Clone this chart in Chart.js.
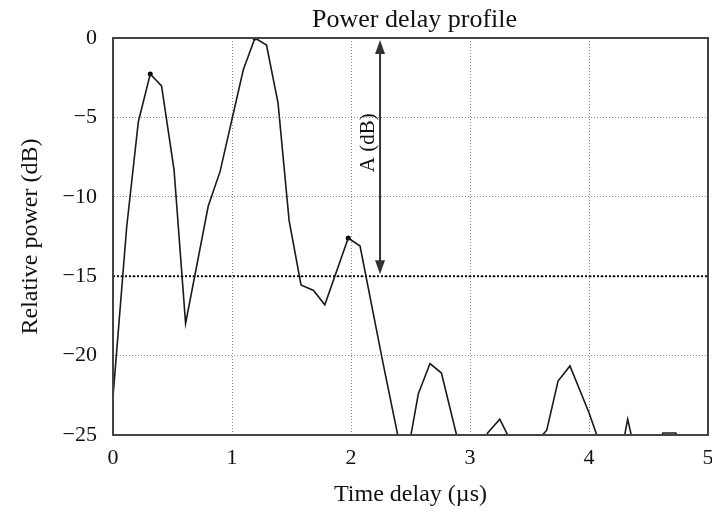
<!DOCTYPE html>
<html><head><meta charset="utf-8">
<script src="https://cdn.jsdelivr.net/npm/chart.js@4/dist/chart.umd.min.js"></script>
<style>html,body{margin:0;padding:0;background:#fff;overflow:hidden;width:712px;height:517px}canvas{display:block}</style>
</head><body>
<canvas id="c" width="730" height="517"></canvas>
<script>
// ---- data ----
const delayUs = [0.0, 0.115, 0.213, 0.313, 0.408, 0.513, 0.61, 0.80, 0.90, 1.095, 1.193, 1.29, 1.387, 1.48, 1.58, 1.685, 1.78, 1.977, 2.076, 2.27, 2.42, 2.48, 2.566, 2.664, 2.76, 2.90, 3.05, 3.15, 3.25, 3.35, 3.45, 3.55, 3.615, 3.645, 3.74, 3.84, 4.0, 4.07, 4.15, 4.25, 4.325, 4.40, 4.5, 4.60, 4.62, 4.73, 4.75, 4.85, 5.0];
const powerDb = [-22.6, -11.9, -5.27, -2.27, -3.02, -8.3, -17.97, -10.6, -8.4, -2.0, 0.0, -0.44, -4.1, -11.5, -15.55, -15.9, -16.8, -12.6, -13.1, -20.5, -26.0, -26.0, -22.4, -20.5, -21.1, -25.4, -26.5, -24.85, -24.0, -25.5, -27.0, -27.0, -24.95, -24.7, -21.6, -20.65, -23.6, -25.1, -27.0, -27.0, -24.0, -26.5, -27.0, -25.3, -24.87, -24.87, -25.3, -27.0, -27.0];
const peakDelayUs = [0.313, 1.193, 1.977];
const peakPowerDb = [-2.27, 0.0, -12.6];
const thresholdDb = -15;
const arrowDelayUs = 2.244;
const arrowTopDb = 0;
const xTickValues = [0, 1, 2, 3, 4, 5];
const xTickLabels = ['0', '1', '2', '3', '4', '5'];
const yTickValues = [-25, -20, -15, -10, -5, 0];
const yTickLabels = ['\u221225', '\u221220', '\u221215', '\u221210', '\u22125', '0'];
const titleText = 'Power delay profile';
const xTitleText = 'Time delay (\u00b5s)';
const yTitleText = 'Relative power (dB)';
const arrowLabelText = 'A (dB)';

const SERIF = '"Liberation Serif", "Times New Roman", serif';
const curve = delayUs.map((t, i) => ({x: t, y: powerDb[i]}));
const peaks = peakDelayUs.map((t, i) => ({x: t, y: peakPowerDb[i]}));
const threshold = [{x: xTickValues[0], y: thresholdDb}, {x: xTickValues[xTickValues.length - 1], y: thresholdDb}];

const decor = {
  id: 'decor',
  afterDraw(chart) {
    const {ctx, chartArea: a, scales: {x, y}} = chart;
    ctx.save();
    ctx.setLineDash([]);
    // arrow
    const ax = x.getPixelForValue(arrowDelayUs);
    const yTop = y.getPixelForValue(arrowTopDb) + 2;
    const yBot = y.getPixelForValue(thresholdDb) - 2;
    const hl = 14, hw = 5;
    ctx.strokeStyle = '#333'; ctx.fillStyle = '#333'; ctx.lineWidth = 2;
    ctx.beginPath(); ctx.moveTo(ax, yTop + hl - 2); ctx.lineTo(ax, yBot - hl + 2); ctx.stroke();
    ctx.beginPath(); ctx.moveTo(ax, yTop); ctx.lineTo(ax - hw, yTop + hl); ctx.lineTo(ax + hw, yTop + hl); ctx.closePath(); ctx.fill();
    ctx.beginPath(); ctx.moveTo(ax, yBot); ctx.lineTo(ax - hw, yBot - hl); ctx.lineTo(ax + hw, yBot - hl); ctx.closePath(); ctx.fill();
    // arrow label
    ctx.save();
    ctx.translate(ax - 12, y.getPixelForValue(-6.6));
    ctx.rotate(-Math.PI / 2);
    ctx.fillStyle = '#111';
    ctx.font = '21px ' + SERIF;
    ctx.textAlign = 'center'; ctx.textBaseline = 'middle';
    ctx.fillText(arrowLabelText, 0, 0);
    ctx.restore();
    // frame
    ctx.strokeStyle = '#444'; ctx.lineWidth = 2;
    ctx.strokeRect(a.left, a.top, a.right - a.left, a.bottom - a.top);
    // title
    ctx.fillStyle = '#111';
    ctx.font = '26px ' + SERIF;
    ctx.textAlign = 'center'; ctx.textBaseline = 'alphabetic';
    ctx.fillText(titleText, (a.left + a.right) / 2 + 4, a.top - 11);
    ctx.restore();
  }
};

new Chart(document.getElementById('c'), {
  type: 'scatter',
  data: {
    datasets: [
      {data: threshold, showLine: true, borderColor: '#111', borderWidth: 2, borderDash: [2, 2], pointRadius: 0, clip: 0},
      {data: curve, showLine: true, borderColor: '#1a1a1a', borderWidth: 1.6, pointRadius: 0, tension: 0, clip: 0},
      {data: peaks, showLine: false, pointRadius: 2.5, pointBackgroundColor: '#000', pointBorderColor: '#000', pointBorderWidth: 0}
    ]
  },
  options: {
    responsive: false,
    animation: false,
    layout: {padding: {left: 0, top: 38, right: 22, bottom: 0}},
    plugins: {legend: {display: false}, tooltip: {enabled: false}, title: {display: false}},
    scales: {
      x: {
        type: 'linear', min: 0, max: 5,
        afterBuildTicks: s => { s.ticks = xTickValues.map(v => ({value: v})); },
        afterFit: s => { s.height = 82; },
        ticks: {callback: v => xTickLabels[xTickValues.indexOf(v)], color: '#111', font: {family: SERIF, size: 22}, padding: 10, maxRotation: 0, autoSkip: false},
        grid: {color: '#8a8a8a', lineWidth: 1, drawTicks: false},
        border: {display: true, color: '#444', width: 2, dash: [1, 2]},
        title: {display: true, text: xTitleText, color: '#111', font: {family: SERIF, size: 24}, padding: {top: 0, bottom: 8}}
      },
      y: {
        type: 'linear', min: -25, max: 0,
        afterBuildTicks: s => { s.ticks = yTickValues.map(v => ({value: v})); },
        afterFit: s => { s.width = 113; },
        ticks: {callback: v => yTickLabels[yTickValues.indexOf(v)], color: '#111', font: {family: SERIF, size: 22}, padding: 16, autoSkip: false},
        grid: {color: '#8a8a8a', lineWidth: 1, drawTicks: false},
        border: {display: true, color: '#444', width: 2, dash: [1, 2]},
        title: {display: true, text: yTitleText, color: '#111', font: {family: SERIF, size: 24}, padding: {top: 16, bottom: 0}}
      }
    }
  },
  plugins: [decor]
});
</script>
</body></html>
